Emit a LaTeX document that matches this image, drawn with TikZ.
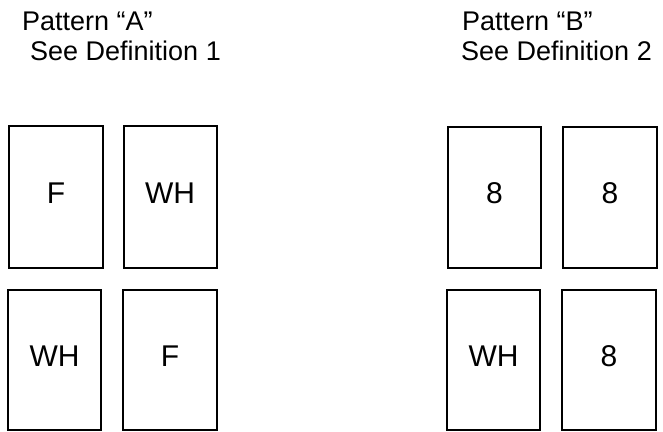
\documentclass[tikz,border=0pt]{standalone}
\usepackage{fontspec}
\setmainfont{Liberation Sans}
\begin{document}
\begin{tikzpicture}[x=1pt,y=-1pt,
  cell/.style={draw=black,line width=1.8pt,fill=white,inner sep=0pt},
  head/.style={anchor=base west,inner sep=0pt,font=\fontsize{27}{30}\selectfont},
  lbl/.style={anchor=base,inner sep=0pt,font=\fontsize{30}{33}\selectfont}]
\useasboundingbox (0,0) rectangle (663,431);
% headers
\node[head] (ha1) at (22,30) {Pattern “A”};
\node[head] (ha2) at (30,60) {See Definition 1};
\node[head] (hb1) at (462,30) {Pattern “B”};
\node[head] (hb2) at (461,60) {See Definition 2};
% pattern A boxes
\node[cell,minimum width=94pt,minimum height=142pt] (a1) at (56,197) {};
\node[cell,minimum width=93pt,minimum height=142pt] (a2) at (170.5,197) {};
\node[cell,minimum width=93pt,minimum height=140pt] (a3) at (54.5,360) {};
\node[cell,minimum width=94pt,minimum height=140pt] (a4) at (170,360) {};
% pattern B boxes
\node[cell,minimum width=93pt,minimum height=141pt] (b1) at (494.5,197.5) {};
\node[cell,minimum width=94pt,minimum height=141pt] (b2) at (610,197.5) {};
\node[cell,minimum width=93pt,minimum height=140pt] (b3) at (493.5,360) {};
\node[cell,minimum width=94pt,minimum height=140pt] (b4) at (609,360) {};
% labels
\node[lbl] (la1) at (56,203) {F};
\node[lbl] (la2) at (170,203) {WH};
\node[lbl] (la3) at (54.5,366) {WH};
\node[lbl] (la4) at (170,366) {F};
\node[lbl] (lb1) at (494.5,203) {8};
\node[lbl] (lb2) at (610,203) {8};
\node[lbl] (lb3) at (493.5,366) {WH};
\node[lbl] (lb4) at (609,366) {8};
\end{tikzpicture}
\end{document}
